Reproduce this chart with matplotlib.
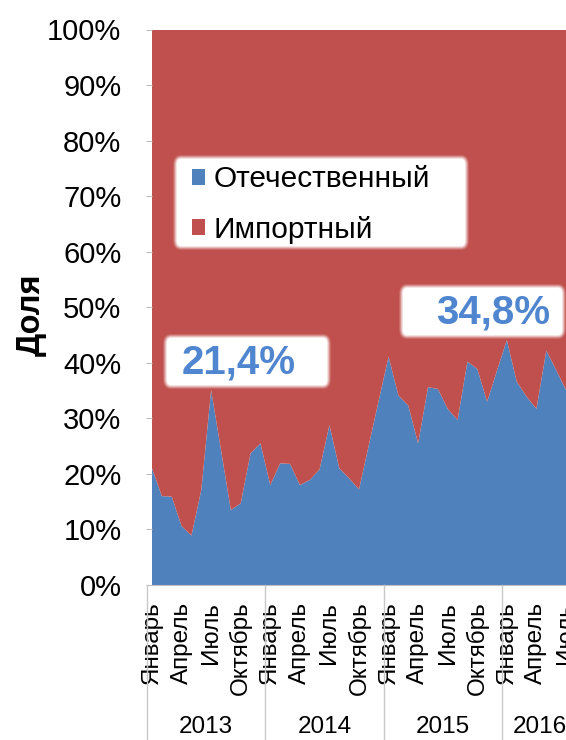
import matplotlib
matplotlib.use("Agg")
import matplotlib.pyplot as plt
import matplotlib.transforms as mtransforms
from matplotlib.patches import FancyBboxPatch, Patch
import numpy as np

plt.rcParams['font.family'] = ['Liberation Sans', 'DejaVu Sans']

# ---- data ----
years = ["2013", "2014", "2015", "2016"]
months_per_year = [12, 12, 12, 7]
month_names = ["Январь", "Февраль", "Март", "Апрель", "Май", "Июнь",
               "Июль", "Август", "Сентябрь", "Октябрь", "Ноябрь", "Декабрь"]
shown_months = ["Январь", "Апрель", "Июль", "Октябрь"]

domestic = [21.0, 16.0, 15.9, 10.6, 8.9, 17.1, 35.1, 24.3, 13.5, 14.7, 23.7, 25.5,
            18.0, 21.9, 21.8, 18.0, 18.9, 20.8, 28.8, 21.0, 19.2, 17.2, 25.2, 33.2,
            41.1, 34.1, 32.3, 25.5, 35.6, 35.3, 31.7, 29.7, 40.2, 38.9, 33.0, 38.6,
            44.1, 36.6, 33.9, 31.7, 42.2, 38.7, 35.1]
imported = [100.0 - v for v in domestic]

series_names = ["Отечественный", "Импортный"]
series_colors = ["#4F81BD", "#C0504D"]
annotations = ["21,4%", "34,8%"]

W, H = 566, 740
fig = plt.figure(figsize=(W / 100, H / 100), dpi=100)

def fx(px):
    return px / W

def fy(py):
    return 1 - py / H

ax_left, ax_right, ax_top, ax_bottom = 152, 566, 29.5, 585
ax = fig.add_axes([fx(ax_left), fy(ax_bottom), fx(ax_right - ax_left), (ax_bottom - ax_top) / H])

x = np.arange(len(domestic))
ax.stackplot(x, domestic, imported, colors=series_colors, labels=series_names, linewidth=0)
ax.set_xlim(0, len(domestic) - 1)
ax.set_ylim(0, 100)

# y axis
ax.set_yticks(np.arange(0, 101, 10))
ax.set_yticklabels([f"{v}%" for v in range(0, 101, 10)], fontsize=21)
ax.tick_params(axis='y', length=4, color='#BFBFBF', pad=18)
ax.set_ylabel("Доля", fontsize=23.5, fontweight='bold')
ax.yaxis.set_label_coords((47 - ax_left) / (ax_right - ax_left), (ax_bottom - 315) / (ax_bottom - ax_top))

# x axis month labels
tick_pos, tick_lab = [], []
start = 0
for n in months_per_year:
    for m in range(n):
        if month_names[m] in shown_months:
            tick_pos.append(start + m)
            tick_lab.append(month_names[m])
    start += n
ax.set_xticks(tick_pos)
ax.set_xticklabels(tick_lab, rotation=90, fontsize=17.5, va='top', ha='center')
ax.tick_params(axis='x', length=0, pad=12)

for s in ['top', 'right', 'left']:
    ax.spines[s].set_visible(False)
ax.spines['bottom'].set_color('#BFBFBF')

# year group separators and labels
trans = mtransforms.blended_transform_factory(ax.transData, ax.transAxes)
start = 0
y_year = (ax_bottom - 726.7) / (ax_bottom - ax_top)
y_sep_bottom = (ax_bottom - H) / (ax_bottom - ax_top)
for i, (yr, n) in enumerate(zip(years, months_per_year)):
    ax.plot([start - 0.5, start - 0.5], [0, y_sep_bottom], transform=trans, color='#C8C8C8',
            lw=1, clip_on=False)
    center = start + (n - 1) / 2 if i < len(years) - 1 else start + (n - 1) / 2 + 0.3
    ax.text(center, y_year, yr, transform=trans, ha='center', va='center', fontsize=17.5)
    start += n

# soft boxes
def soft_box(x0, y0, x1, y1, rad=4):
    for k, a in [(4, 0.15), (3, 0.25), (2, 0.4), (1, 0.6)]:
        p = FancyBboxPatch((fx(x0 - k), fy(y1 + k)), fx(x1 - x0 + 2 * k), (y1 - y0 + 2 * k) / H,
                           boxstyle=f"round,pad=0,rounding_size={(rad + k) / W}",
                           transform=fig.transFigure, facecolor='white', edgecolor='none',
                           alpha=a, zorder=5)
        fig.add_artist(p)
    p = FancyBboxPatch((fx(x0), fy(y1)), fx(x1 - x0), (y1 - y0) / H,
                       boxstyle=f"round,pad=0,rounding_size={rad / W}",
                       transform=fig.transFigure, facecolor='white', edgecolor='none', zorder=6)
    fig.add_artist(p)

# legend box
soft_box(177, 159, 465, 246)
handles = [Patch(facecolor=c, edgecolor='none') for c in series_colors]
leg = fig.legend(handles, series_names, loc='center left',
                 bbox_to_anchor=(fx(192), fy(204.5)), frameon=False, fontsize=21.5,
                 handlelength=0.45, handleheight=0.45, handletextpad=0.28,
                 borderpad=0, borderaxespad=0, labelspacing=0.75)
leg.set_zorder(10)

# annotation boxes
soft_box(167, 338, 327, 385)
fig.text(fx(239), fy(363), annotations[0], ha='center', va='center', fontsize=29,
         fontweight='bold', color='#4F86CF', zorder=10)
soft_box(403, 288, 562, 335)
fig.text(fx(493), fy(312), annotations[1], ha='center', va='center', fontsize=29,
         fontweight='bold', color='#4F86CF', zorder=10)

fig.savefig("out.png", dpi=100)
